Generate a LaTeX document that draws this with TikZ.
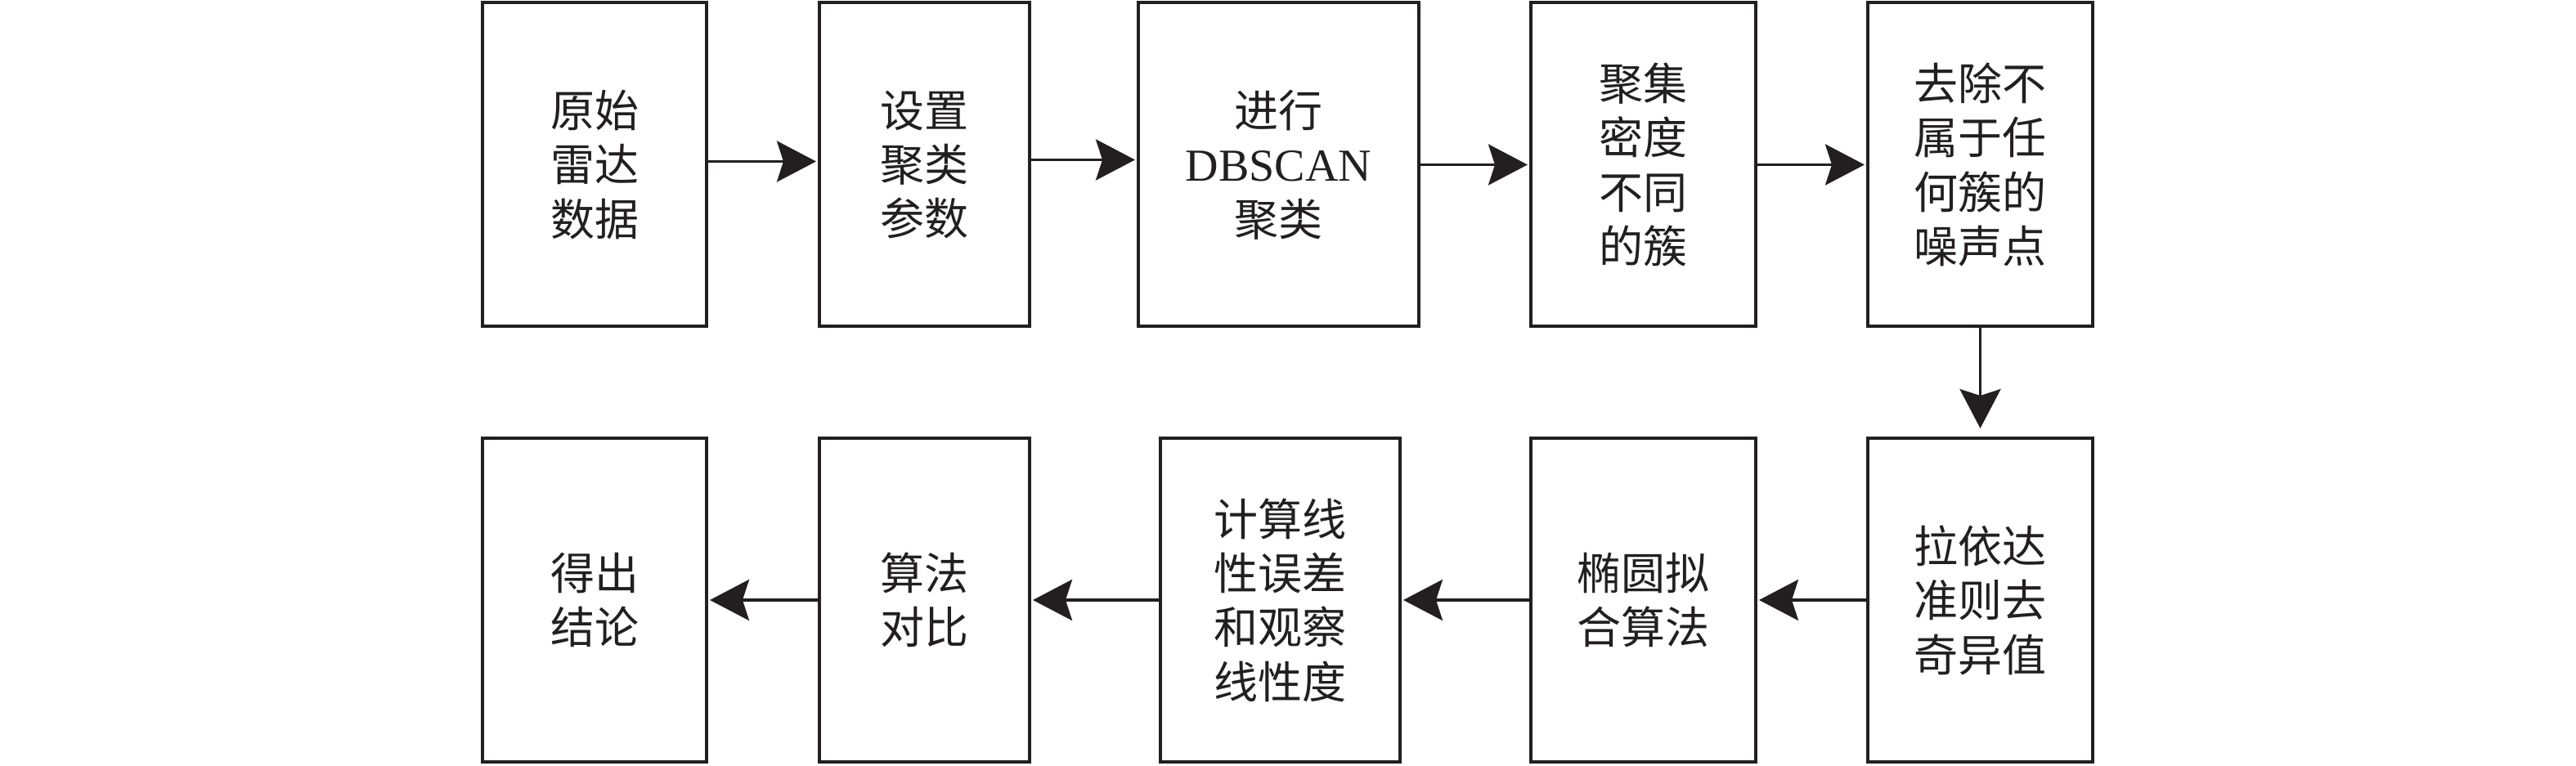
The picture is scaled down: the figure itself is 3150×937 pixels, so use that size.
\documentclass[tikz,border=0pt]{standalone}
\usepackage{fontspec}
\setmainfont{Liberation Serif}
\newfontfamily\cjk{Noto Sans CJK SC}
\usetikzlibrary{arrows.meta}
\definecolor{ink}{HTML}{231F20}
\tikzset{
  box/.style={draw=ink, line width=1pt, fill=white, inner sep=0pt, minimum height=99pt,
    align=center, text=ink, font=\fontsize{13.5pt}{16.6pt}\selectfont\cjk},
  flow/.style={draw=ink, line width=0.9pt, -{Stealth[length=12pt,width=12.5pt,inset=2pt]}, shorten >=0.5pt}
}
\begin{document}
\begin{tikzpicture}[x=0.25pt,y=-0.25pt]
\useasboundingbox (0,0) rectangle (3150,937);
% row 1
\node[box, minimum width=68.5pt]  (b1) at (727,201.5)  {原始\\雷达\\数据};
\node[box, minimum width=64.25pt] (b2) at (1130.5,201.5) {设置\\聚类\\参数};
\node[box, minimum width=85.75pt] (b3) at (1563.5,201.5) {进行\\{\rmfamily\fontsize{14pt}{16.6pt}\selectfont DBSCAN}\\聚类};
\node[box, minimum width=68.75pt] (b4) at (2009.5,201.5) {聚集\\密度\\不同\\的簇};
\node[box, minimum width=68.75pt] (b5) at (2421.5,201.5) {去除不\\属于任\\何簇的\\噪声点};
% row 2
\node[box, minimum width=68.75pt] (b10) at (2421.5,734) {拉依达\\准则去\\奇异值};
\node[box, minimum width=68.75pt] (b9) at (2009.5,734) {椭圆拟\\合算法};
\node[box, minimum width=73.25pt] (b8) at (1565.5,734) {计算线\\性误差\\和观察\\线性度};
\node[box, minimum width=64.25pt] (b7) at (1130.5,734) {算法\\对比};
\node[box, minimum width=68.5pt]  (b6) at (727,734)  {得出\\结论};
% connectors
\draw[flow] ([yshift=1pt]b1.east) -- ([yshift=1pt]b2.west);
\draw[flow] ([yshift=1.5pt]b2.east) -- ([yshift=1.5pt]b3.west);
\draw[flow] (b3.east) -- (b4.west);
\draw[flow] (b4.east) -- (b5.west);
\draw[flow, shorten >=2.5pt] (b5.south) -- (b10.north);
\draw[flow] (b10.west) -- (b9.east);
\draw[flow] (b9.west) -- (b8.east);
\draw[flow] (b8.west) -- (b7.east);
\draw[flow] (b7.west) -- (b6.east);
\end{tikzpicture}
\end{document}
